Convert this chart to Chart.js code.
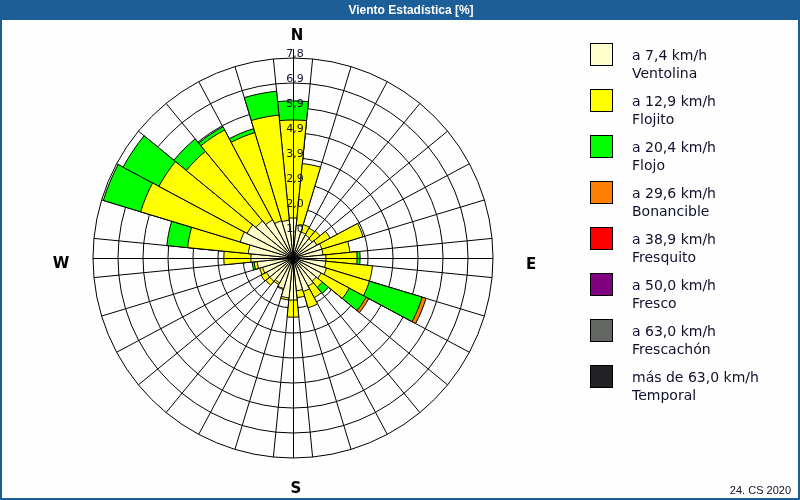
<!DOCTYPE html>
<html>
<head>
<meta charset="utf-8">
<title>Viento Estadística</title>
<script src="https://cdn.jsdelivr.net/npm/chart.js@4.4.1/dist/chart.umd.min.js"></script>
<style>
html, body { margin: 0; padding: 0; background: #fff; }
#wrap { width: 800px; height: 500px; position: relative; }
</style>
</head>
<body>
<div id="wrap"><canvas id="canvas"></canvas></div>
<script>
// 32 sectors, clockwise from north
var directions = ['N', 'NxE', 'NNE', 'NExN', 'NE', 'NExE', 'ENE', 'ExN',
    'E', 'ExS', 'ESE', 'SExE', 'SE', 'SExS', 'SSE', 'SxE',
    'S', 'SxO', 'SSO', 'SOxS', 'SO', 'SOxO', 'OSO', 'OxS',
    'O', 'OxN', 'ONO', 'NOxO', 'NO', 'NOxN', 'NNO', 'NxO'];

// frequency [%] per speed band and direction
var ventolina  = [1.57, 1.29, 1.06, 1.02, 0.98, 1.06, 1.18, 1.18, 1.29, 1.29, 1.37, 1.25, 1.18, 1.25, 1.37, 1.29,
                  1.65, 1.57, 1.25, 1.10, 1.18, 1.18, 1.25, 1.41, 1.65, 1.76, 2.16, 2.04, 1.88, 1.69, 1.53, 1.49];
var flojito    = [3.84, 2.43, 0.31, 0.31, 0.39, 0.59, 1.69, 1.06, 1.22, 1.84, 1.76, 1.25, 0.31, 0.51, 0.67, 0.27,
                  0.67, 0.08, 0.04, 0.08, 0.20, 0.24, 0.12, 0.12, 1.06, 2.39, 4.08, 3.92, 3.53, 4.00, 3.61, 4.14];
var flojo      = [0.75, 0, 0, 0, 0, 0, 0, 0, 0.12, 0, 2.16, 0.75, 0.31, 0, 0, 0,
                  0, 0, 0, 0, 0, 0, 0, 0.08, 0, 0.82, 1.53, 1.59, 0.63, 0.14, 0.16, 0.94];
var bonancible = [0, 0, 0, 0, 0, 0, 0, 0, 0, 0, 0.16, 0.12, 0, 0, 0, 0,
                  0, 0, 0, 0, 0, 0, 0, 0, 0, 0, 0, 0, 0, 0, 0, 0];
var fresquito  = [0, 0, 0, 0, 0, 0, 0, 0, 0, 0, 0, 0, 0, 0, 0, 0, 0, 0, 0, 0, 0, 0, 0, 0, 0, 0, 0, 0, 0, 0, 0, 0];
var fresco     = [0, 0, 0, 0, 0, 0, 0, 0, 0, 0, 0, 0, 0, 0, 0, 0, 0, 0, 0, 0, 0, 0, 0, 0, 0, 0, 0, 0, 0, 0, 0, 0];
var frescachon = [0, 0, 0, 0, 0, 0, 0, 0, 0, 0, 0, 0, 0, 0, 0, 0, 0, 0, 0, 0, 0, 0, 0, 0, 0, 0, 0, 0, 0, 0, 0, 0];
var temporal   = [0, 0, 0, 0, 0, 0, 0, 0, 0, 0, 0, 0, 0, 0, 0, 0, 0, 0, 0, 0, 0, 0, 0, 0, 0, 0, 0, 0, 0, 0, 0, 0];

var speedLabels = ['a 7,4 km/h', 'a 12,9 km/h', 'a 20,4 km/h', 'a 29,6 km/h', 'a 38,9 km/h', 'a 50,0 km/h', 'a 63,0 km/h', 'más de 63,0 km/h'];
var bandNames = ['Ventolina', 'Flojito', 'Flojo', 'Bonancible', 'Fresquito', 'Fresco', 'Frescachón', 'Temporal'];
var compass = ['N', 'E', 'S', 'W'];
var ringStep = 0.98;
var ringMax = 7.84;
var chartTitle = 'Viento Estadística [%]';
var footer = '24. CS 2020';

var bandColors = ['#ffffcc', '#ffff00', '#00ff00', '#ff8000', '#ff0000', '#800080', '#646664', '#222226'];
var frameBlue = '#1b5e98';
var textColor = '#10102c';

var bands = [ventolina, flojito, flojo, bonancible, fresquito, fresco, frescachon, temporal];
var running = directions.map(function() { return 0; });
var datasets = bands.map(function(band, k) {
    var data = band.map(function(v, i) {
        running[i] += v;
        return v > 0 ? running[i] : 0;
    });
    return {
        label: [speedLabels[k], bandNames[k]],
        data: data,
        backgroundColor: bandColors[k],
        borderColor: '#000',
        borderWidth: 1
    };
});

function fmt(v) {
    return v.toFixed(1).replace('.', ',');
}

var decor = {
    id: 'decor',
    beforeDraw: function(chart) {
        var ctx = chart.ctx, w = chart.width, h = chart.height;
        ctx.save();
        ctx.fillStyle = '#fdfefd';
        ctx.fillRect(0, 0, w, h);
        ctx.fillStyle = frameBlue;
        ctx.fillRect(0, 0, w, 20);
        ctx.strokeStyle = frameBlue;
        ctx.lineWidth = 2;
        ctx.strokeRect(1, 1, w - 2, h - 2);
        ctx.fillStyle = '#ffffff';
        ctx.font = 'bold 12px "Liberation Sans"';
        ctx.textAlign = 'center';
        ctx.textBaseline = 'middle';
        ctx.fillText(chartTitle, 411, 10.5);
        ctx.restore();
    },
    afterDatasetsDraw: function(chart) {
        var ctx = chart.ctx, r = chart.scales.r;
        var cx = r.xCenter, cy = r.yCenter, R = r.drawingArea;
        ctx.save();
        ctx.strokeStyle = '#000';
        ctx.lineWidth = 1;
        ctx.beginPath();
        ctx.moveTo(cx + 0.5, cy - R - 9);
        ctx.lineTo(cx + 0.5, cy + R);
        ctx.moveTo(cx - R, cy + 0.5);
        ctx.lineTo(cx + R, cy + 0.5);
        ctx.stroke();
        ctx.fillStyle = textColor;
        ctx.font = '11px "DejaVu Sans"';
        ctx.textAlign = 'center';
        ctx.textBaseline = 'alphabetic';
        r.ticks.forEach(function(t, i) {
            if (i === 0) return;
            var d = r.getDistanceFromCenterForValue(t.value);
            ctx.fillText(fmt(t.value), cx + 2, cy - d - 1.5);
        });
        ctx.restore();
    },
    afterDraw: function(chart) {
        var ctx = chart.ctx, r = chart.scales.r;
        var cx = r.xCenter, cy = r.yCenter, R = r.drawingArea;
        ctx.save();
        // compass letters
        ctx.fillStyle = '#000';
        ctx.font = 'bold 15px "DejaVu Sans"';
        ctx.textAlign = 'center';
        ctx.textBaseline = 'middle';
        ctx.fillText(compass[0], cx + 4, cy - R - 22);
        ctx.fillText(compass[1], cx + R + 38, cy + 7);
        ctx.fillText(compass[2], cx + 3, cy + R + 31);
        ctx.fillText(compass[3], cx - R - 32, cy + 6);
        // legend
        var lx = chart.width - 210, ly = 43;
        ctx.font = '14px "DejaVu Sans"';
        ctx.textAlign = 'left';
        chart.data.datasets.forEach(function(ds, k) {
            var top = ly + k * 46;
            ctx.fillStyle = ds.backgroundColor;
            ctx.fillRect(lx, top, 23, 23);
            ctx.strokeStyle = '#000';
            ctx.lineWidth = 1;
            ctx.strokeRect(lx + 0.5, top + 0.5, 22, 22);
            ctx.fillStyle = textColor;
            ctx.fillText(ds.label[0], lx + 42, top + 13);
            ctx.fillText(ds.label[1], lx + 42, top + 31);
        });
        // footer
        ctx.font = '11px "Liberation Sans"';
        ctx.textAlign = 'right';
        ctx.fillStyle = textColor;
        ctx.fillText(footer, chart.width - 9, chart.height - 9);
        ctx.restore();
    }
};

window.onload = function() {
    var ctx = document.getElementById('canvas').getContext('2d');
    window.myRose = new Chart(ctx, {
        type: 'polarArea',
        data: {
            labels: directions,
            datasets: datasets
        },
        options: {
            responsive: true,
            maintainAspectRatio: false,
            animation: false,
            layout: {
                padding: { left: 93, right: 307, top: 58, bottom: 42 }
            },
            scales: {
                r: {
                    min: 0,
                    max: ringMax,
                    startAngle: -180 / directions.length,
                    ticks: { display: false, stepSize: ringStep },
                    grid: { color: '#000', lineWidth: 1, circular: true },
                    angleLines: { display: true, color: '#000', lineWidth: 1 },
                    pointLabels: { display: false }
                }
            },
            plugins: {
                legend: { display: false },
                tooltip: { enabled: false }
            }
        },
        plugins: [decor]
    });
};
</script>
</body>
</html>
